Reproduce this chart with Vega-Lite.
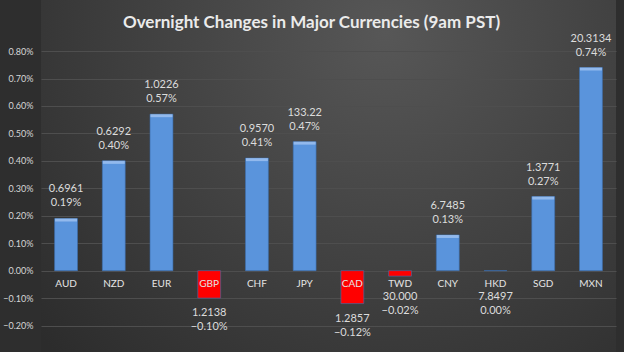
{
  "$schema": "https://vega.github.io/schema/vega-lite/v6.json",
  "width": 575,
  "height": 353,
  "autosize": {"type": "none"},
  "padding": {"left": 41, "right": 8, "top": 0, "bottom": 0},
  "background": "#2e2e2e",
  "title": {
    "text": "Overnight Changes in Major Currencies (9am PST)",
    "font": "Lato",
    "fontSize": 17,
    "fontWeight": "bold",
    "color": "#ebebeb",
    "anchor": "middle",
    "baseline": "alphabetic",
    "offset": 0,
    "dy": 45,
    "dx": -17
  },
  "config": {
    "font": "Lato",
    "view": {
      "stroke": null,
      "fill": {
        "gradient": "radial",
        "x1": 0.6, "y1": 0.25, "r1": 0,
        "x2": 0.6, "y2": 0.25, "r2": 0.8,
        "stops": [
          {"offset": 0, "color": "#575757"},
          {"offset": 1, "color": "#2c2c2c"}
        ]
      }
    },
    "axisY": {
      "title": null,
      "format": ".2%",
      "domain": false,
      "ticks": false,
      "labelPadding": 8,
      "labelColor": "#d6d6d6",
      "labelFontSize": 9,
      "gridColor": "#4e4e4e",
      "gridWidth": 1
    }
  },
  "data": {
    "values": [
      {"currency": "AUD", "rate": "0.6961", "change": 0.0019},
      {"currency": "NZD", "rate": "0.6292", "change": 0.0040},
      {"currency": "EUR", "rate": "1.0226", "change": 0.0057},
      {"currency": "GBP", "rate": "1.2138", "change": -0.0010},
      {"currency": "CHF", "rate": "0.9570", "change": 0.0041},
      {"currency": "JPY", "rate": "133.22", "change": 0.0047},
      {"currency": "CAD", "rate": "1.2857", "change": -0.0012},
      {"currency": "TWD", "rate": "30.000", "change": -0.0002},
      {"currency": "CNY", "rate": "6.7485", "change": 0.0013},
      {"currency": "HKD", "rate": "7.8497", "change": 0.0000},
      {"currency": "SGD", "rate": "1.3771", "change": 0.0027},
      {"currency": "MXN", "rate": "20.3134", "change": 0.0074}
    ]
  },
  "transform": [
    {"calculate": "min(datum.change, -0.0004)", "as": "labelAt"}
  ],
  "encoding": {
    "x": {
      "field": "currency",
      "type": "nominal",
      "sort": null,
      "scale": {"paddingInner": 0.52, "paddingOuter": 0.285},
      "axis": null
    }
  },
  "layer": [
    {
      "mark": {"type": "bar", "stroke": "#3d6fae", "strokeWidth": 0.6},
      "encoding": {
        "y": {
          "field": "change",
          "type": "quantitative",
          "scale": {"domain": [-0.003, 0.00986], "nice": false, "zero": false},
          "axis": {"values": [-0.002, -0.001, 0, 0.001, 0.002, 0.003, 0.004, 0.005, 0.006, 0.007, 0.008]}
        },
        "color": {
          "condition": {"test": "datum.change < 0", "value": "#ff0000"},
          "value": "#5a94dc"
        }
      }
    },
    {
      "transform": [{"filter": "datum.change > 0"}],
      "mark": {"type": "tick", "color": "#a9c9f3", "thickness": 3, "size": 22, "yOffset": 1.5},
      "encoding": {
        "y": {"field": "change", "type": "quantitative", "axis": {"values": [-0.002, -0.001, 0, 0.001, 0.002, 0.003, 0.004, 0.005, 0.006, 0.007, 0.008]}}
      }
    },
    {
      "mark": {"type": "rule", "color": "#8e8e8e", "strokeWidth": 1},
      "encoding": {"y": {"datum": 0, "axis": {"values": [-0.002, -0.001, 0, 0.001, 0.002, 0.003, 0.004, 0.005, 0.006, 0.007, 0.008]}}}
    },
    {
      "mark": {"type": "text", "dy": 13, "fontSize": 10, "color": "#e4e4e4", "baseline": "middle"},
      "encoding": {
        "y": {"datum": 0, "axis": {"values": [-0.002, -0.001, 0, 0.001, 0.002, 0.003, 0.004, 0.005, 0.006, 0.007, 0.008]}},
        "text": {"field": "currency"}
      }
    },
    {
      "transform": [{"filter": "datum.change > 0"}],
      "mark": {"type": "text", "dy": -29, "fontSize": 11, "color": "#dcdcdc", "baseline": "middle"},
      "encoding": {
        "y": {"field": "change", "type": "quantitative", "axis": {"values": [-0.002, -0.001, 0, 0.001, 0.002, 0.003, 0.004, 0.005, 0.006, 0.007, 0.008]}},
        "text": {"field": "rate"}
      }
    },
    {
      "transform": [{"filter": "datum.change > 0"}],
      "mark": {"type": "text", "dy": -15, "fontSize": 11, "color": "#dcdcdc", "baseline": "middle"},
      "encoding": {
        "y": {"field": "change", "type": "quantitative", "axis": {"values": [-0.002, -0.001, 0, 0.001, 0.002, 0.003, 0.004, 0.005, 0.006, 0.007, 0.008]}},
        "text": {"field": "change", "format": ".2%"}
      }
    },
    {
      "transform": [{"filter": "datum.change <= 0"}],
      "mark": {"type": "text", "dy": 15, "fontSize": 11, "color": "#dcdcdc", "baseline": "middle"},
      "encoding": {
        "y": {"field": "labelAt", "type": "quantitative", "axis": {"values": [-0.002, -0.001, 0, 0.001, 0.002, 0.003, 0.004, 0.005, 0.006, 0.007, 0.008]}},
        "text": {"field": "rate"}
      }
    },
    {
      "transform": [{"filter": "datum.change <= 0"}],
      "mark": {"type": "text", "dy": 29, "fontSize": 11, "color": "#dcdcdc", "baseline": "middle"},
      "encoding": {
        "y": {"field": "labelAt", "type": "quantitative", "axis": {"values": [-0.002, -0.001, 0, 0.001, 0.002, 0.003, 0.004, 0.005, 0.006, 0.007, 0.008]}},
        "text": {"field": "change", "format": ".2%"}
      }
    }
  ]
}
